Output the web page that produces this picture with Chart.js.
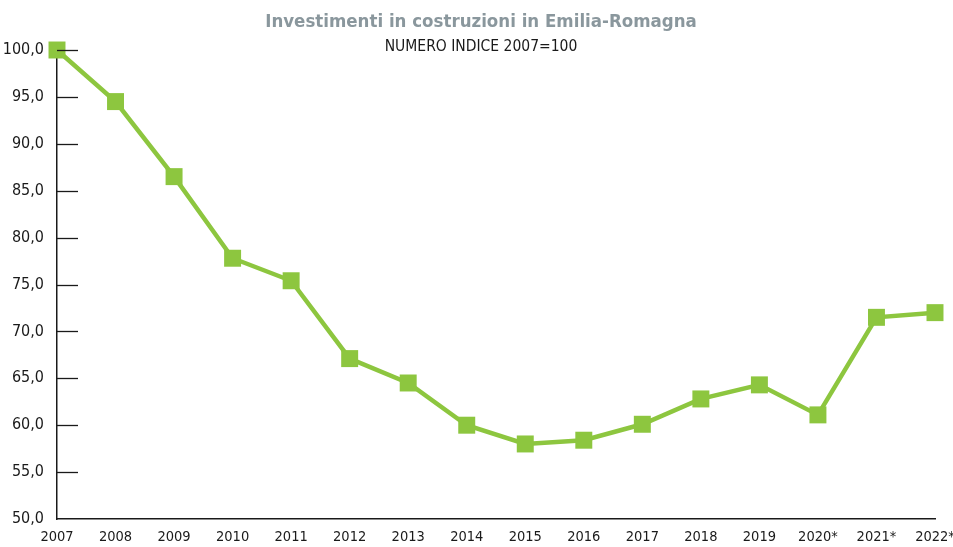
<!DOCTYPE html>
<html>
<head>
<meta charset="utf-8">
<script src="https://cdn.jsdelivr.net/npm/chart.js@4.4.1/dist/chart.umd.min.js"></script>
<style>
  html, body { margin: 0; padding: 0; background: #fff; }
  #wrap { width: 953px; height: 547px; }
</style>
</head>
<body>
<div id="wrap"><canvas id="chart"></canvas></div>
<script>
const years = ['2007', '2008', '2009', '2010', '2011', '2012', '2013', '2014', '2015', '2016', '2017', '2018', '2019', '2020*', '2021*', '2022*'];
const indexValues = [100, 94.5, 86.5, 77.8, 75.4, 67.1, 64.5, 60.0, 58.0, 58.4, 60.1, 62.8, 64.3, 61.1, 71.5, 72.0];
const yTicks = [50, 55, 60, 65, 70, 75, 80, 85, 90, 95, 100];

const titleText = 'Investimenti in costruzioni in Emilia-Romagna';
const subtitleText = 'NUMERO INDICE 2007=100';
const FONT = '"DejaVu Sans Condensed", "Liberation Sans", sans-serif';

// titles + the short tick marks drawn inside the plot
const decorations = {
    id: 'decorations',
    afterDraw(chart) {
        const ctx = chart.ctx;
        const y = chart.scales.y;
        const left = chart.chartArea.left;
        ctx.save();
        ctx.strokeStyle = '#1a1a1a';
        ctx.lineWidth = 1.3;
        yTicks.forEach(v => {
            if (v === 50) return;
            const py = Math.round(y.getPixelForValue(v)) + 0.5;
            ctx.beginPath();
            ctx.moveTo(left, py);
            ctx.lineTo(left + 21, py);
            ctx.stroke();
        });
        ctx.textAlign = 'center';
        ctx.textBaseline = 'middle';
        ctx.fillStyle = '#8a979d';
        ctx.font = 'bold 18.5px ' + FONT;
        ctx.fillText(titleText, 481, 22);
        ctx.fillStyle = '#1a1a1a';
        ctx.font = '15.5px ' + FONT;
        ctx.fillText(subtitleText, 481, 47);
        ctx.restore();
    }
};

new Chart(document.getElementById('chart'), {
    type: 'line',
    data: {
        labels: years,
        datasets: [{
            data: indexValues,
            borderColor: '#8dc63f',
            backgroundColor: '#8dc63f',
            borderWidth: 4.5,
            pointStyle: 'rect',
            pointRadius: 12,
            pointHoverRadius: 12,
            pointBorderWidth: 0,
            tension: 0,
            clip: false
        }]
    },
    options: {
        responsive: true,
        maintainAspectRatio: false,
        animation: false,
        layout: { padding: { top: 50, right: 18, left: 0, bottom: 0 } },
        plugins: {
            legend: { display: false },
            tooltip: { enabled: false },
            title: { display: false }
        },
        scales: {
            x: {
                type: 'category',
                offset: false,
                grid: { display: false, drawTicks: false },
                border: { display: true, color: '#1a1a1a', width: 1.5 },
                ticks: {
                    color: '#1a1a1a',
                    font: { family: FONT, size: 14.5 },
                    padding: 10,
                    maxRotation: 0,
                    autoSkip: false
                },
                afterFit(scale) {
                    scale.height = 28;
                    scale.paddingLeft = 0;
                    scale.paddingRight = 0;
                }
            },
            y: {
                min: 50,
                max: 100,
                grid: { display: false, drawTicks: false },
                border: { display: true, color: '#1a1a1a', width: 1.5 },
                afterBuildTicks(scale) {
                    scale.ticks = yTicks.map(v => ({ value: v }));
                },
                ticks: {
                    color: '#1a1a1a',
                    font: { family: FONT, size: 16 },
                    padding: 13,
                    callback: v => v.toFixed(1).replace('.', ',')
                },
                afterFit(scale) {
                    scale.width = 57;
                    scale.paddingTop = 0;
                    scale.paddingBottom = 0;
                }
            }
        }
    },
    plugins: [decorations]
});
</script>
</body>
</html>
